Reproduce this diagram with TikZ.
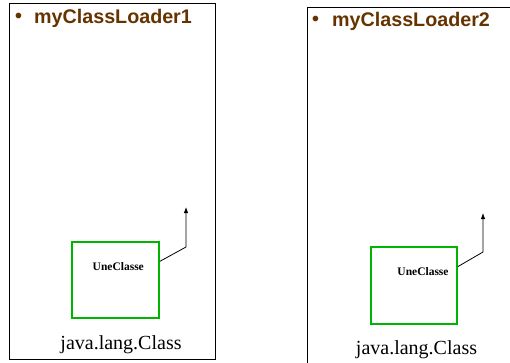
\documentclass[tikz,border=0pt]{standalone}
\usepackage{fontspec}
\setmainfont{Liberation Serif}
\newfontfamily\arialfont{Liberation Sans}
\usetikzlibrary{arrows.meta,positioning,calc}
\definecolor{cbrown}{HTML}{663300}
\definecolor{cgreen}{HTML}{00B400}
\tikzset{
  panel/.style={draw=black,line width=0.8pt},
  ldrtitle/.style={text=cbrown,font=\arialfont\bfseries\fontsize{19.7}{22}\selectfont,inner sep=0pt},
  clsbox/.style={draw=cgreen,line width=1.8pt,inner sep=0pt},
  clslbl/.style={font=\bfseries\fontsize{11.5}{13}\selectfont,inner sep=0pt},
  jlc/.style={font=\fontsize{20}{22}\selectfont,inner sep=0pt},
  ptr/.style={-{Latex[length=6pt,width=4.5pt]},line width=0.8pt,draw=black},
}
\begin{document}
\begin{tikzpicture}[x=1pt,y=-1pt]
  \useasboundingbox (0,0) rectangle (510,363);
  \clip (0,0) rectangle (510,363);
  % chargeur 1
  \draw[panel] (9,3) rectangle (215,359);
  \node[ldrtitle] (dot1) at (18.5,17.5) {\textbullet};
  \node[ldrtitle,anchor=base west] (ttl1) at (34,23.3) {myClassLoader1};
  \node[clsbox,minimum width=87pt,minimum height=76pt] (cls1) at (115.5,280) {};
  \node[clslbl,anchor=base] (lbl1) at (118.3,270.5) {UneClasse};
  \node[jlc,anchor=base] (jlc1) at (121,349.5) {java.lang.Class};
  \coordinate (k1) at (186,247);
  \coordinate (t1) at (186,207);
  \draw[ptr] ($(cls1.north east)!0.26!(cls1.south east)$) -- (k1) -- (t1);
  % chargeur 2
  \draw[panel] (307,7) rectangle (530,380);
  \node[ldrtitle] (dot2) at (315.5,20.5) {\textbullet};
  \node[ldrtitle,anchor=base west] (ttl2) at (332,26.7) {myClassLoader2};
  \node[clsbox,minimum width=86pt,minimum height=77pt] (cls2) at (414,285.5) {};
  \node[clslbl,anchor=base] (lbl2) at (423,275) {UneClasse};
  \node[jlc,anchor=base] (jlc2) at (416.5,354) {java.lang.Class};
  \coordinate (k2) at (483,252);
  \coordinate (t2) at (483,213);
  \draw[ptr] ($(cls2.north east)!0.26!(cls2.south east)$) -- (k2) -- (t2);
\end{tikzpicture}
\end{document}
